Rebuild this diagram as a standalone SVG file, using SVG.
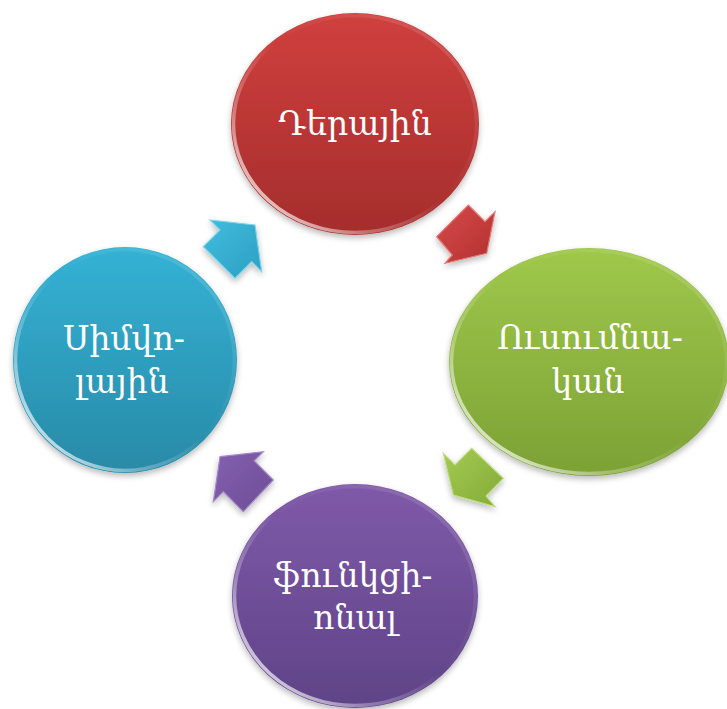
<svg xmlns="http://www.w3.org/2000/svg" width="727" height="709" viewBox="0 0 727 709">
<style>
.lbl{font-family:"DejaVu Serif","Liberation Serif",serif;font-size:33px;fill:#ffffff;text-anchor:middle}
.rim{fill:none;stroke:url(#rim);stroke-width:3.5}
.arw{stroke-width:1.2;stroke-linejoin:miter}
</style>
<defs>
<linearGradient id="gRed" x1="0" y1="0" x2="0" y2="1"><stop offset="0" stop-color="#d0403e"/><stop offset="1" stop-color="#a52d2c"/></linearGradient>
<linearGradient id="gGreen" x1="0" y1="0" x2="0" y2="1"><stop offset="0" stop-color="#9fc84b"/><stop offset="1" stop-color="#7ca135"/></linearGradient>
<linearGradient id="gPurple" x1="0" y1="0" x2="0" y2="1"><stop offset="0" stop-color="#7f5aa9"/><stop offset="1" stop-color="#5f4387"/></linearGradient>
<linearGradient id="gCyan" x1="0" y1="0" x2="0" y2="1"><stop offset="0" stop-color="#34b2d5"/><stop offset="1" stop-color="#298aa7"/></linearGradient>
<linearGradient id="rim" x1="0" y1="0.85" x2="0.9" y2="0">
<stop offset="0" stop-color="#fff" stop-opacity="0.85"/>
<stop offset="0.25" stop-color="#fff" stop-opacity="0.3"/>
<stop offset="0.5" stop-color="#fff" stop-opacity="0"/>
<stop offset="1" stop-color="#fff" stop-opacity="0.15"/>
</linearGradient>
<linearGradient id="aRed" x1="0" y1="0" x2="1" y2="1"><stop offset="0" stop-color="#d64c4b"/><stop offset="1" stop-color="#b32f2f"/></linearGradient>
<linearGradient id="aGreen" x1="0" y1="0" x2="1" y2="1"><stop offset="0" stop-color="#a4cb53"/><stop offset="1" stop-color="#82ab36"/></linearGradient>
<linearGradient id="aPurple" x1="0" y1="0" x2="1" y2="1"><stop offset="0" stop-color="#8560ae"/><stop offset="1" stop-color="#6c4c97"/></linearGradient>
<linearGradient id="aCyan" x1="0" y1="0" x2="1" y2="1"><stop offset="0" stop-color="#42bddf"/><stop offset="1" stop-color="#2b9fc1"/></linearGradient>
<filter id="shadow" x="-10%" y="-10%" width="120%" height="125%">
<feGaussianBlur in="SourceAlpha" stdDeviation="3"/>
<feOffset dy="3"/>
<feComponentTransfer><feFuncA type="linear" slope="0.28"/></feComponentTransfer>
<feMerge><feMergeNode/><feMergeNode in="SourceGraphic"/></feMerge>
</filter>
</defs>
<rect width="727" height="709" fill="#ffffff"/>
<g id="connectors">
<polygon class="arw" fill="url(#aRed)" stroke="#e27a78" filter="url(#shadow)" points="468.3,205 485,221.7 495,211.7 486.7,253.3 445,263.3 452.3,255 436.7,236.7"/>
<polygon class="arw" fill="url(#aGreen)" stroke="#bfdc80" filter="url(#shadow)" points="443.3,453.3 455,465 471.7,448.3 503.3,478.3 486,496 495,506.7 453.3,495"/>
<polygon class="arw" fill="url(#aPurple)" stroke="#a58ac8" filter="url(#shadow)" points="220,456.7 263.3,451.7 254.2,460.8 273.3,480 243.3,511.7 223.3,491.7 213.3,501.7"/>
<polygon class="arw" fill="url(#aCyan)" stroke="#7fd4ec" filter="url(#shadow)" points="210,220 255,225 261.7,271.7 251.7,261.7 235,278.3 203.3,246.7 220,230"/>
</g>
<g id="node-derayin">
<ellipse cx="355" cy="124" rx="124" ry="111" fill="url(#gRed)" filter="url(#shadow)"/>
<ellipse class="rim" cx="355" cy="124" rx="121.5" ry="108.5"/>
<text class="lbl" x="355" y="135">Դերային</text>
</g>
<g id="node-usumnakan">
<ellipse cx="589" cy="362" rx="140" ry="114" fill="url(#gGreen)" filter="url(#shadow)"/>
<ellipse class="rim" cx="589" cy="362" rx="137.5" ry="111.5"/>
<text class="lbl" x="590" y="349">Ուսումնա-</text>
<text class="lbl" x="588" y="393">կան</text>
</g>
<g id="node-funkcional">
<ellipse cx="355" cy="596" rx="123" ry="112" fill="url(#gPurple)" filter="url(#shadow)"/>
<ellipse class="rim" cx="355" cy="596" rx="120.5" ry="109.5"/>
<text class="lbl" x="353" y="587">ֆունկցի-</text>
<text class="lbl" x="355" y="629">ոնալ</text>
</g>
<g id="node-simvolayin">
<ellipse cx="125" cy="360" rx="112" ry="113" fill="url(#gCyan)" filter="url(#shadow)"/>
<ellipse class="rim" cx="125" cy="360" rx="109.5" ry="110.5"/>
<text class="lbl" x="124" y="350">Սիմվո-</text>
<text class="lbl" x="122" y="393">լային</text>
</g>
</svg>
